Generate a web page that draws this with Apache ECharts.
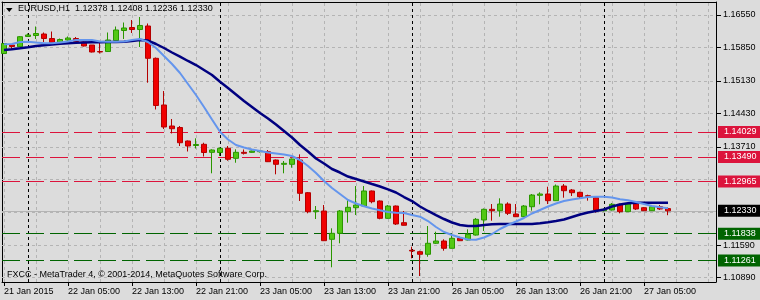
<!DOCTYPE html>
<html>
<head>
<meta charset="utf-8">
<script src="https://cdn.jsdelivr.net/npm/echarts@6/dist/echarts.min.js"></script>
<style>
html,body{margin:0;padding:0;background:#DCDCDC;}
#chart{width:760px;height:300px;}
</style>
</head>
<body>
<div id="chart"></div>
<script>
// ---- data (EURUSD H1, 21 Jan 2015 21:00 .. 27 Jan 2015 08:00) ----
const openP = [1.15720,1.15903,1.15867,1.16087,1.16108,1.16140,1.16043,1.15957,1.16011,1.16043,
1.15968,1.15903,1.15763,1.15763,1.16000,1.16216,1.16280,1.16237,1.16313,1.15617,
1.14611,1.14158,1.14126,1.13835,1.13738,1.13764,1.13591,1.13587,1.13678,1.13462,
1.13591,1.13591,1.13604,1.13604,1.13425,1.13333,1.13333,1.13425,1.12721,1.12312,
1.12327,1.11717,1.11846,1.12312,1.12398,1.12434,1.12758,1.12542,1.12169,1.12434,
1.12075,1.11480,1.11450,1.11394,1.11631,1.11680,1.11523,1.11738,1.11702,1.11809,
1.12133,1.12363,1.12333,1.12477,1.12262,1.12204,1.12419,1.12665,1.12693,1.12549,
1.12865,1.12779,1.12729,1.12656,1.12613,1.12333,1.12348,1.12471,1.12312,1.12477,
1.12398,1.12333,1.12419,1.12378];
const highP = [1.15946,1.15914,1.16097,1.16151,1.16302,1.16173,1.16194,1.16043,1.16087,1.16076,
1.15979,1.15903,1.15957,1.16173,1.16302,1.16388,1.16442,1.16507,1.16367,1.15634,
1.14912,1.14309,1.14158,1.13846,1.13893,1.13798,1.13656,1.13695,1.13727,1.13656,
1.13652,1.13630,1.13641,1.13641,1.13436,1.13404,1.13458,1.13548,1.12736,1.12434,
1.12456,1.11954,1.12348,1.12564,1.12865,1.12865,1.12768,1.12553,1.12456,1.12445,
1.12327,1.11557,1.11471,1.12003,1.11881,1.11717,1.11825,1.11773,1.11932,1.12176,
1.12380,1.12477,1.12600,1.12514,1.12477,1.12456,1.12693,1.12729,1.12850,1.12898,
1.12908,1.12801,1.12742,1.12678,1.12628,1.12385,1.12499,1.12488,1.12499,1.12499,
1.12413,1.12434,1.12456,1.12408];
const lowP = [1.15709,1.15817,1.15860,1.16076,1.16033,1.15968,1.15936,1.15946,1.16000,1.15968,
1.15871,1.15742,1.15720,1.15753,1.15990,1.16033,1.16162,1.15860,1.15091,1.14514,
1.14093,1.13997,1.13727,1.13609,1.13673,1.13501,1.13139,1.13512,1.13410,1.13367,
1.13544,1.13583,1.13587,1.13382,1.13117,1.13139,1.13260,1.12542,1.12277,1.12154,
1.11680,1.11114,1.11631,1.12075,1.12240,1.12424,1.12493,1.12148,1.12161,1.12025,
1.12015,1.11307,1.10926,1.11342,1.11616,1.11471,1.11519,1.11680,1.11691,1.11798,
1.11896,1.12118,1.12204,1.12240,1.12197,1.12197,1.12333,1.12471,1.12477,1.12542,
1.12613,1.12650,1.12600,1.12549,1.12290,1.12316,1.12337,1.12277,1.12305,1.12348,
1.12327,1.12327,1.12348,1.12236];
const closeP = [1.15936,1.15871,1.16082,1.16119,1.16151,1.16043,1.15957,1.16022,1.16054,1.15979,
1.15882,1.15753,1.15753,1.16011,1.16227,1.16270,1.16237,1.16324,1.15617,1.14600,
1.14137,1.14100,1.13798,1.13727,1.13759,1.13587,1.13641,1.13678,1.13441,1.13591,
1.13570,1.13619,1.13619,1.13389,1.13333,1.13354,1.13447,1.12708,1.12312,1.12333,
1.11687,1.11846,1.12327,1.12406,1.12456,1.12758,1.12527,1.12169,1.12434,1.12047,
1.12019,1.11465,1.11394,1.11631,1.11680,1.11523,1.11738,1.11687,1.11825,1.12148,
1.12363,1.12333,1.12477,1.12277,1.12204,1.12434,1.12671,1.12693,1.12549,1.12865,
1.12764,1.12721,1.12635,1.12643,1.12348,1.12348,1.12471,1.12312,1.12477,1.12370,
1.12333,1.12419,1.12370,1.12330];
const fastMA = [1.15919,1.15925,1.15968,1.15975,1.15957,1.15940,1.15940,1.15957,1.15979,1.16011,
1.16011,1.16011,1.15979,1.15975,1.15975,1.15979,1.16011,1.16033,1.15968,1.15839,
1.15666,1.15494,1.15300,1.15063,1.14826,1.14568,1.14298,1.14035,1.13867,1.13749,
1.13695,1.13652,1.13619,1.13587,1.13566,1.13544,1.13512,1.13425,1.13296,1.13145,
1.12973,1.12822,1.12693,1.12564,1.12488,1.12428,1.12380,1.12342,1.12305,1.12290,
1.12284,1.12240,1.12204,1.12111,1.11982,1.11874,1.11809,1.11756,1.11713,1.11708,
1.11756,1.11831,1.11939,1.12025,1.12100,1.12176,1.12273,1.12348,1.12424,1.12488,
1.12542,1.12574,1.12600,1.12628,1.12635,1.12635,1.12618,1.12579,1.12557,1.12520,
1.12477,1.12434,1.12406,1.12385];
const slowMA = [1.15796,1.15811,1.15832,1.15856,1.15882,1.15899,1.15914,1.15929,1.15940,1.15951,
1.15957,1.15962,1.15964,1.15968,1.15968,1.15972,1.15990,1.16011,1.16000,1.15925,
1.15839,1.15742,1.15651,1.15559,1.15472,1.15365,1.15257,1.15113,1.14977,1.14837,
1.14697,1.14568,1.14438,1.14320,1.14190,1.14050,1.13910,1.13749,1.13609,1.13458,
1.13350,1.13232,1.13156,1.13070,1.13016,1.12962,1.12908,1.12855,1.12794,1.12725,
1.12628,1.12542,1.12424,1.12327,1.12240,1.12154,1.12079,1.12025,1.12003,1.12003,
1.12025,1.12040,1.12047,1.12047,1.12047,1.12047,1.12047,1.12062,1.12083,1.12111,
1.12143,1.12197,1.12251,1.12294,1.12327,1.12359,1.12424,1.12467,1.12495,1.12503,
1.12506,1.12506,1.12506,1.12506];
const xTickBars = [0,8,16,24,32,40,48,56,64,72,80];
const xTickLabels = ['21 Jan 2015','22 Jan 05:00','22 Jan 13:00','22 Jan 21:00','23 Jan 05:00','23 Jan 13:00','23 Jan 21:00','26 Jan 05:00','26 Jan 13:00','26 Jan 21:00','27 Jan 05:00'];
const gridBars = [0,4,8,12,16,20,24,28,32,36,40,44,48,52,56,60,64,68,72,76,80,84,88];
const daySeparators = [3,27,51,75];
const yGridValues = [1.10890,1.11590,1.12300,1.13010,1.13710,1.14430,1.15130,1.15850,1.16550];
const yLabelValues = [1.10890,1.11590,1.13710,1.14430,1.15130,1.15850,1.16550];
const resistanceLevels = [1.14029,1.13490,1.12965];
const supportLevels = [1.11838,1.11261];
const lastPrice = 1.12330;
const symbolTitle = 'EURUSD,H1  1.12378 1.12408 1.12236 1.12330';
const footerText = 'FXCC - MetaTrader 4, \u00A9 2001-2014, MetaQuotes Software Corp.';

// ---- build ----
const FONT = '"Liberation Sans", Arial, sans-serif';
const candles = openP.map((o, i) => [i, o, closeP[i], lowP[i], highP[i]]);
const fastData = fastMA.map((v, i) => [i, v]);
const slowData = slowMA.map((v, i) => [i, v]);

const levelLabel = (bg, v) => ({
  show: true, position: 'end', distance: 2,
  formatter: () => v.toFixed(5),
  color: '#ffffff', backgroundColor: bg, padding: [2, 5, 1, 6],
  fontFamily: FONT, fontSize: 9
});

const gridMarks = [];
yGridValues.forEach(v => gridMarks.push({yAxis: v, lineStyle: {color: '#B4B4B4', type: [3, 3], width: 1}, label: {show: false}}));
gridBars.forEach(b => gridMarks.push({xAxis: b, lineStyle: {color: '#B4B4B4', type: [3, 3], width: 1}, label: {show: false}}));
daySeparators.forEach(b => gridMarks.push({xAxis: b, lineStyle: {color: '#000000', type: [3, 3], width: 1}, label: {show: false}}));
gridMarks.push({yAxis: lastPrice, lineStyle: {color: '#B4B4B4', type: 'solid', width: 1}, label: levelLabel('#000000', lastPrice)});
resistanceLevels.forEach(v => gridMarks.push({yAxis: v, lineStyle: {color: '#DC143C', type: [18, 6], width: 1}, label: levelLabel('#DC143C', v)}));
supportLevels.forEach(v => gridMarks.push({yAxis: v, lineStyle: {color: '#006400', type: [18, 6], width: 1}, label: levelLabel('#006400', v)}));

const chart = echarts.init(document.getElementById('chart'), null, {renderer: 'canvas'});
chart.setOption({
  animation: false,
  backgroundColor: '#DCDCDC',
  textStyle: {fontFamily: FONT},
  grid: {left: 2, right: 44, top: 2, bottom: 18, containLabel: false},
  xAxis: [{
    type: 'value', min: -0.25, max: 89, position: 'bottom',
    axisLine: {show: true, onZero: false, lineStyle: {color: '#000', width: 1}},
    splitLine: {show: false},
    axisTick: {show: true, customValues: xTickBars, length: 4, lineStyle: {color: '#000'}},
    axisLabel: {show: true, customValues: xTickBars, align: 'left', margin: 5,
      formatter: (v) => { const k = xTickBars.indexOf(Math.round(v)); return k >= 0 ? xTickLabels[k] : ''; },
      color: '#000', fontFamily: FONT, fontSize: 9}
  }, {
    type: 'value', min: -0.25, max: 89, position: 'top',
    axisLine: {show: true, onZero: false, lineStyle: {color: '#000', width: 1}},
    axisTick: {show: false}, axisLabel: {show: false}, splitLine: {show: false}
  }],
  yAxis: [{
    type: 'value', min: 1.10797, max: 1.16830, position: 'right', scale: true,
    axisLine: {show: true, onZero: false, lineStyle: {color: '#000', width: 1}},
    splitLine: {show: false},
    axisTick: {show: true, customValues: yLabelValues, length: 5, lineStyle: {color: '#000'}},
    axisLabel: {show: true, customValues: yLabelValues, margin: 7,
      formatter: (v) => Number(v).toFixed(5), color: '#000', fontFamily: FONT, fontSize: 9}
  }, {
    type: 'value', min: 1.10797, max: 1.16830, position: 'left', scale: true,
    axisLine: {show: true, onZero: false, lineStyle: {color: '#000', width: 1}},
    axisTick: {show: false}, axisLabel: {show: false}, splitLine: {show: false}
  }],
  series: [{
    type: 'candlestick', name: 'EURUSD',
    xAxisIndex: 0, yAxisIndex: 0,
    encode: {x: 0, y: [1, 2, 3, 4]},
    data: candles,
    barWidth: 5,
    z: 2,
    itemStyle: {color: '#52C814', color0: '#F00000', borderColor: '#2A9600', borderColor0: '#B40000', borderWidth: 1},
    markLine: {silent: true, symbol: ['none', 'none'], precision: 5, z: 1, animation: false, data: gridMarks}
  }, {
    type: 'line', name: 'MA slow', data: slowData, xAxisIndex: 0, yAxisIndex: 0,
    showSymbol: false, z: 3, lineStyle: {color: '#000080', width: 2.5}
  }, {
    type: 'line', name: 'MA fast', data: fastData, xAxisIndex: 0, yAxisIndex: 0,
    showSymbol: false, z: 4, lineStyle: {color: '#6495ED', width: 2}
  }],
  graphic: [
    {type: 'polygon', shape: {points: [[6, 8], [12.5, 8], [9.25, 12]]}, style: {fill: '#000'}, z: 10},
    {type: 'text', left: 18, top: 4, style: {text: symbolTitle, fill: '#000', font: '9px "Liberation Sans", Arial, sans-serif'}, z: 10},
    {type: 'text', left: 7, top: 270, style: {text: footerText, fill: '#000', font: '9px "Liberation Sans", Arial, sans-serif'}, z: 10}
  ]
});
</script>
</body>
</html>
